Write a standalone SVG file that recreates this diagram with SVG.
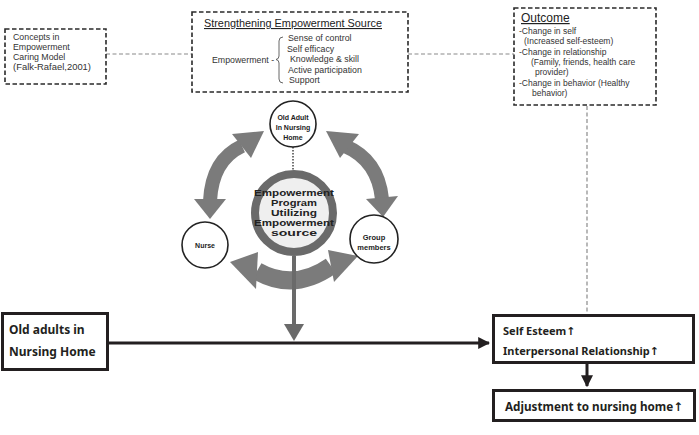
<svg xmlns="http://www.w3.org/2000/svg" width="699" height="435" viewBox="0 0 699 435">
<style>
.dbox{fill:#fff;stroke:#2a2a2a;stroke-width:1.6;stroke-dasharray:4.5 2.5}
.conn{fill:none;stroke:#8a8a8a;stroke-width:1.2;stroke-dasharray:4 2.5}
.sm{font-family:"Liberation Sans",Arial,sans-serif;font-size:8.8px;fill:#333}
.hd{font-family:"Liberation Sans",Arial,sans-serif;font-size:11px;fill:#222;text-decoration:underline}
.cb{font-family:"Liberation Sans",Arial,sans-serif;font-weight:bold;fill:#222}
.sbox{fill:#fff;stroke:#231f20;stroke-width:3}
.bt{font-family:"Noto Sans","Open Sans","DejaVu Sans",sans-serif;font-weight:bold;fill:#231f20}
.garc{fill:none;stroke:#7b7b7b;stroke-width:14}
.ghead{fill:#7b7b7b}
.circ{fill:#fff;stroke:#222;stroke-width:1.6}
</style>
<defs>
<marker id="ah" viewBox="0 0 10 10" refX="9" refY="5" markerWidth="4" markerHeight="4" orient="auto" markerUnits="strokeWidth">
<path d="M0,0 L10,5 L0,10 z" fill="#231f20"/>
</marker>
</defs>

<g id="connectors">
<line class="conn" x1="106" y1="54" x2="192" y2="54"/>
<line class="conn" x1="408" y1="54" x2="514" y2="54"/>
<line class="conn" x1="587" y1="106" x2="587" y2="314"/>
<line x1="293" y1="147" x2="293" y2="170" stroke="#444" stroke-width="1.5" stroke-dasharray="1.5 1.5"/>
<line x1="109" y1="343" x2="489" y2="343" stroke="#231f20" stroke-width="3" marker-end="url(#ah)"/>
<line x1="587" y1="364" x2="587" y2="386" stroke="#231f20" stroke-width="3" marker-end="url(#ah)"/>
<path class="garc" d="M242,146 Q212,160 210,201"/>
<polygon class="ghead" points="264,131 232,134 251,158"/>
<polygon class="ghead" points="210,219 194,199 226,199"/>
<path class="garc" d="M345,146 Q378,160 382,199"/>
<polygon class="ghead" points="326,131 359,134 340,158"/>
<polygon class="ghead" points="383,217 366,199 398,196"/>
<path class="garc" d="M257,271 Q294,292 331,266" style="stroke-width:18"/>
<polygon class="ghead" points="230,262 258,252 256,289"/>
<polygon class="ghead" points="358,256 328,250 334,282"/>
<line x1="294" y1="256" x2="294" y2="326" stroke="#6a6a6a" stroke-width="4"/>
<polygon points="284,324 304,324 294,341" fill="#6a6a6a"/>
</g>

<g id="concepts">
<rect class="dbox" x="5" y="29" width="101" height="55"/>
<text class="sm" x="13" y="39.5">Concepts in</text>
<text class="sm" x="13" y="49.7">Empowerment</text>
<text class="sm" x="13" y="59.9">Caring Model</text>
<text class="sm" x="13" y="70.1" textLength="78" lengthAdjust="spacingAndGlyphs">(Falk-Rafael,2001)</text>
</g>

<g id="strengthening">
<rect class="dbox" x="192" y="12" width="216" height="80"/>
<text class="hd" x="293" y="27" text-anchor="middle" textLength="178" lengthAdjust="spacingAndGlyphs">Strengthening Empowerment Source</text>
<text class="sm" x="212" y="63">Empowerment -</text>
<path d="M283,37 Q279,37 279,41 L279,56 Q279,59 276,59.5 Q279,60 279,63 L279,79 Q279,83 283,83" fill="none" stroke="#555" stroke-width="0.9"/>
<text class="sm" x="288" y="41">Sense of control</text>
<text class="sm" x="287" y="51.5">Self efficacy</text>
<text class="sm" x="290" y="62">Knowledge &amp; skill</text>
<text class="sm" x="288" y="72.5">Active participation</text>
<text class="sm" x="289" y="83">Support</text>
</g>

<g id="outcome">
<rect class="dbox" x="514" y="8" width="142" height="97"/>
<text class="hd" x="521" y="22" style="font-size:12px">Outcome</text>
<text class="sm" x="519" y="33.5" style="font-size:8.5px">-Change in self</text>
<text class="sm" x="524" y="43.5" style="font-size:8.5px">(Increased self-esteem)</text>
<text class="sm" x="519" y="54.5" style="font-size:8.5px">-Change in relationship</text>
<text class="sm" x="531" y="65" style="font-size:8.5px">(Family, friends, health care</text>
<text class="sm" x="535" y="75" style="font-size:8.5px">provider)</text>
<text class="sm" x="519" y="86" style="font-size:8.5px">-Change in behavior (Healthy</text>
<text class="sm" x="532" y="96" style="font-size:8.5px">behavior)</text>
</g>

<g id="old-adult-circle">
<circle class="circ" cx="293" cy="124" r="23"/>
<text class="cb" x="293" y="119.5" text-anchor="middle" style="font-size:7px">Old Adult</text>
<text class="cb" x="293" y="129.5" text-anchor="middle" style="font-size:7px">In Nursing</text>
<text class="cb" x="293" y="139.5" text-anchor="middle" style="font-size:7px">Home</text>
</g>

<g id="nurse-circle">
<circle class="circ" cx="205" cy="245" r="23"/>
<text class="cb" x="205" y="248" text-anchor="middle" style="font-size:7px">Nurse</text>
</g>

<g id="group-circle">
<circle class="circ" cx="374" cy="239" r="24"/>
<text class="cb" x="374" y="240" text-anchor="middle" style="font-size:7.5px">Group</text>
<text class="cb" x="374" y="250" text-anchor="middle" style="font-size:7.5px">members</text>
</g>

<g id="program-ring">
<circle cx="294" cy="213" r="39" fill="#efefef" stroke="#6a6a6a" stroke-width="8"/>
<text class="cb" x="294" y="196" text-anchor="middle" style="font-size:9.2px" textLength="80" lengthAdjust="spacingAndGlyphs">Empowerment</text>
<text class="cb" x="294" y="206" text-anchor="middle" style="font-size:9.2px" textLength="46" lengthAdjust="spacingAndGlyphs">Program</text>
<text class="cb" x="294" y="216" text-anchor="middle" style="font-size:9.2px" textLength="46" lengthAdjust="spacingAndGlyphs">Utilizing</text>
<text class="cb" x="294" y="226" text-anchor="middle" style="font-size:9.2px" textLength="80" lengthAdjust="spacingAndGlyphs">Empowerment</text>
<text class="cb" x="294" y="236" text-anchor="middle" style="font-size:9.2px" textLength="46" lengthAdjust="spacingAndGlyphs">source</text>
</g>

<g id="old-adults-box">
<rect class="sbox" x="2.5" y="313.5" width="105" height="56"/>
<text class="bt" x="9" y="334" style="font-size:12px">Old adults in</text>
<text class="bt" x="9" y="356" style="font-size:12px">Nursing Home</text>
</g>

<g id="self-esteem-box">
<rect class="sbox" x="493.5" y="315.5" width="200" height="47"/>
<text class="bt" x="503" y="335" style="font-size:11px">Self Esteem↑</text>
<text class="bt" x="503" y="355" style="font-size:11px" textLength="156" lengthAdjust="spacingAndGlyphs">Interpersonal Relationship↑</text>
</g>

<g id="adjustment-box">
<rect class="sbox" x="493.5" y="390.5" width="201" height="30"/>
<text class="bt" x="505" y="411" style="font-size:12px" textLength="178" lengthAdjust="spacingAndGlyphs">Adjustment  to nursing home↑</text>
</g>
</svg>
